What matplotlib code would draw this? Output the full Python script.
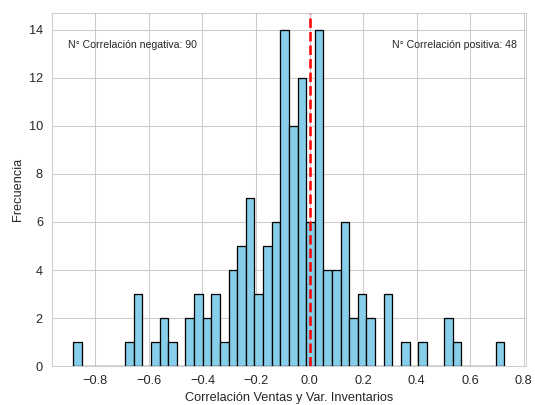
import numpy as np
import matplotlib
matplotlib.use("Agg")
import matplotlib.pyplot as plt
import seaborn as sns

# conteos por intervalo (50 intervalos)
bin_edges = np.linspace(-0.882, 0.728, 51)
counts = [1, 0, 0, 0, 0, 0, 1, 3, 0, 1,
          2, 1, 0, 2, 3, 2, 3, 1, 4, 5,
          7, 3, 5, 6, 14, 10, 12, 6, 14, 4,
          4, 6, 2, 3, 2, 0, 3, 0, 1, 0,
          1, 0, 0, 2, 1, 0, 0, 0, 0, 1]
n_neg = 90
n_pos = 48

sns.set_style("whitegrid")
plt.rcParams['font.family'] = ['Arial', 'Liberation Sans', 'DejaVu Sans']

fig, ax = plt.subplots(figsize=(535 / 92, 405 / 92), dpi=92)
centers = (bin_edges[:-1] + bin_edges[1:]) / 2
ax.hist(centers, bins=bin_edges, weights=counts, color='skyblue', edgecolor='black', linewidth=1.0)
ax.axvline(0, color='red', linestyle='--', linewidth=2)

ax.text(0.034, 0.91, f"N° Correlación negativa: {n_neg}", transform=ax.transAxes,
        fontsize=8.2, va='center', ha='left')
ax.text(0.981, 0.91, f"N° Correlación positiva: {n_pos}", transform=ax.transAxes,
        fontsize=8.2, va='center', ha='right')

ax.set_xlabel("Correlación Ventas y Var. Inventarios")
ax.set_ylabel("Frecuencia")

fig.subplots_adjust(left=0.097, right=0.983, top=0.968, bottom=0.096)
fig.savefig("out.png")
